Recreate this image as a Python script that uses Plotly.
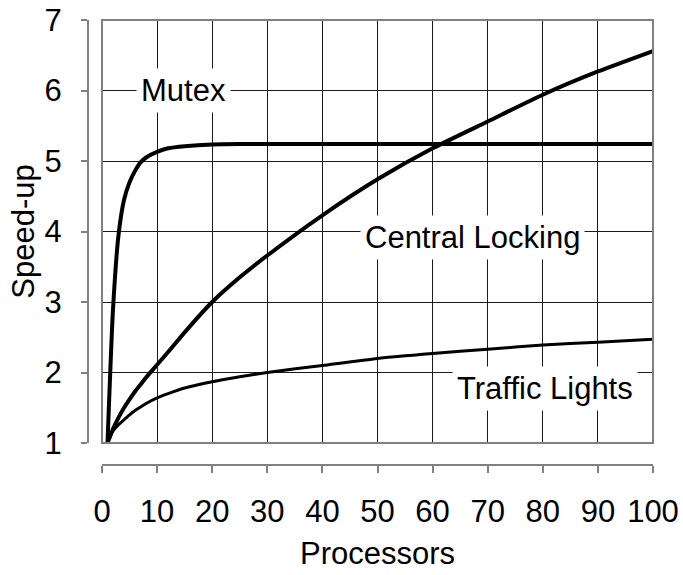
import plotly.graph_objects as go

# Data
processors = [1, 2, 3, 4, 5, 6, 7, 8, 10, 12, 15, 20, 25, 30, 40, 50, 60, 70, 80, 90, 100]
mutex = [1.0, 2.9, 3.95, 4.45, 4.7, 4.86, 4.98, 5.05, 5.13, 5.18, 5.21, 5.235, 5.24, 5.24,
         5.24, 5.24, 5.24, 5.24, 5.24, 5.24, 5.24]
central_locking = [1.0, 1.2, 1.36, 1.5, 1.62, 1.73, 1.83, 1.93, 2.11, 2.29, 2.57, 3.0, 3.35, 3.66,
                   4.23, 4.74, 5.18, 5.56, 5.94, 6.27, 6.56]
traffic_lights = [1.0, 1.17, 1.26, 1.33, 1.4, 1.46, 1.51, 1.56, 1.64, 1.7, 1.78, 1.87, 1.94, 2.0,
                  2.1, 2.2, 2.27, 2.33, 2.39, 2.43, 2.47]

x_ticks = [0, 10, 20, 30, 40, 50, 60, 70, 80, 90, 100]
y_ticks = [1, 2, 3, 4, 5, 6, 7]

labels = ["Mutex", "Central Locking", "Traffic Lights"]
label_pos = [(14.7, 6.0), (67.2, 3.91), (80.4, 1.77)]

FONT = "Liberation Sans, Arial, sans-serif"
FS = 31

fig = go.Figure()
for ys, w in [(mutex, 4), (central_locking, 4), (traffic_lights, 3)]:
    fig.add_trace(go.Scatter(x=processors, y=ys, mode="lines",
                             line=dict(color="black", width=w, shape="spline", smoothing=0.6),
                             showlegend=False, hoverinfo="skip"))

for txt, (ax_, ay_) in zip(labels, label_pos):
    fig.add_annotation(x=ax_, y=ay_, text=txt, showarrow=False, xref="x", yref="y",
                       font=dict(family=FONT, size=FS, color="black"),
                       bgcolor="white", borderpad=4)

fig.add_shape(type="rect", xref="x domain", yref="y domain", x0=0, x1=1, y0=0, y1=1,
              line=dict(color="#808080", width=2), layer="above")

W, H = 683, 575
ml, mr, mt, mb = 88, 30, 20, 110
dx = 14 / (W - ml - mr)
dy = 22 / (H - mt - mb)

fig.update_layout(
    width=W, height=H,
    margin=dict(l=ml, r=mr, t=mt, b=mb, autoexpand=False),
    paper_bgcolor="white", plot_bgcolor="white",
    font=dict(family=FONT, size=FS, color="black"),
    xaxis=dict(domain=[dx, 1], anchor="free", position=0, range=[0, 100],
               tickvals=x_ticks, ticktext=[str(v) for v in x_ticks],
               showgrid=True, gridcolor="#1a1a1a", gridwidth=1, zeroline=False,
               showline=True, linecolor="#808080", linewidth=2,
               ticks="outside", ticklen=7, tickwidth=2, tickcolor="#808080",
               tickfont=dict(size=FS), ticklabelstandoff=12, automargin=False,
               title=dict(text="Processors", font=dict(size=FS), standoff=13)),
    yaxis=dict(domain=[dy, 1], anchor="free", position=0, range=[1, 7],
               tickvals=y_ticks, ticktext=[str(v) for v in y_ticks],
               showgrid=True, gridcolor="#1a1a1a", gridwidth=1, zeroline=False,
               showline=True, linecolor="#808080", linewidth=2,
               ticks="outside", ticklen=6, tickwidth=2, tickcolor="#808080",
               tickfont=dict(size=FS), ticklabelstandoff=13, automargin=False,
               title=dict(text="Speed-up", font=dict(size=FS), standoff=0)),
)

fig.write_html("out.html", config={"displayModeBar": False},
               post_script="document.body.style.margin='0px';")
